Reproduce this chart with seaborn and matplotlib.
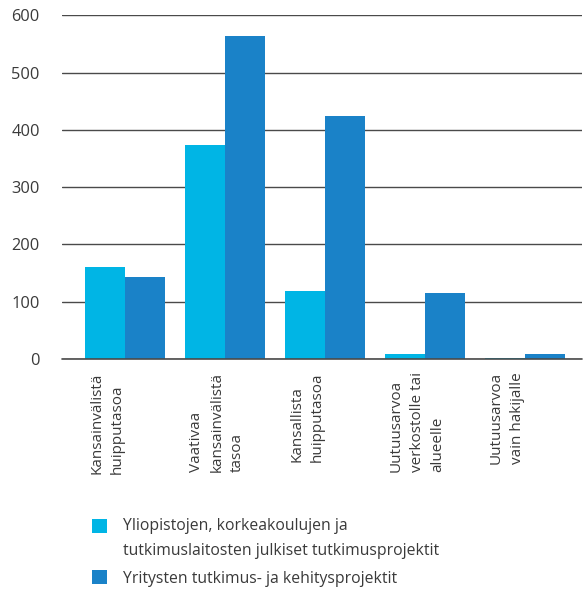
import matplotlib
matplotlib.use("Agg")
import matplotlib.pyplot as plt
import matplotlib.transforms as mtransforms
from matplotlib.patches import Patch, Rectangle
from matplotlib.legend_handler import HandlerPatch
import seaborn as sns
import pandas as pd

categories = [
    "Kansainvälistä\nhuipputasoa",
    "Vaativaa\nkansainvälistä\ntasoa",
    "Kansallista\nhuipputasoa",
    "Uutuusarvoa\nverkostolle tai\nalueelle",
    "Uutuusarvoa\nvain hakijalle",
]
series_names = [
    "Yliopistojen, korkeakoulujen ja\ntutkimuslaitosten julkiset tutkimusprojektit",
    "Yritysten tutkimus- ja kehitysprojektit",
]
values_public = [160, 373, 118, 9, 2]
values_company = [144, 565, 425, 115, 9]
colors = ["#00B5E5", "#1A82C8"]
yticks = [0, 100, 200, 300, 400, 500, 600]

df = pd.DataFrame({
    "cat": categories * 2,
    "value": values_public + values_company,
    "series": [series_names[0]] * len(categories) + [series_names[1]] * len(categories),
})

sns.set_theme(style="white")
plt.rcParams["font.family"] = ["Open Sans", "DejaVu Sans"]
text_color = "#3a3a3a"

fig = plt.figure(figsize=(5.85, 5.91), dpi=100)
ax = fig.add_axes([0.106, 0.3926, 0.889, 0.5812])
sns.barplot(data=df, x="cat", y="value", hue="series", palette=colors,
            saturation=1, width=0.8, ax=ax, legend=False, zorder=3,
            linewidth=0, edgecolor="none")

ax.set_ylim(0, 600)
ax.set_xlim(-0.63, 4.57)
ax.set_yticks(yticks)
ax.yaxis.grid(True, color="#4a4a4a", linewidth=1.0, zorder=0)
ax.set_axisbelow(True)
ax.axhline(0, color="#4a4a4a", linewidth=1.2, zorder=4, clip_on=False)
for s in ax.spines.values():
    s.set_visible(False)
ax.set_xlabel("")
ax.set_ylabel("")
ax.tick_params(axis="y", length=0, pad=16, labelsize=11.8, labelcolor=text_color)
ax.tick_params(axis="x", length=0, pad=9.5)
ax.set_xticks(range(len(categories)))
ax.set_xticklabels(categories, rotation=90, ha="left", va="top",
                   fontsize=11, color=text_color)
offset = mtransforms.ScaledTranslation(-36 / 100, 0, fig.dpi_scale_trans)
for lab in ax.get_xticklabels():
    lab.set_multialignment("left")
    lab.set_linespacing(1.5)
    lab.set_transform(lab.get_transform() + offset)


def make_handler(shift_pt):
    def patch_func(legend, orig_handle, xdescent, ydescent, width, height, fontsize):
        return Rectangle((-xdescent, -ydescent + shift_pt), width, height)
    return HandlerPatch(patch_func=patch_func)


handles = [Patch(facecolor=c, edgecolor="none") for c in colors]
leg = fig.legend(handles, series_names, loc="upper left",
                 bbox_to_anchor=(0.133, 0.148), frameon=False,
                 fontsize=11.3, handlelength=0.95, handleheight=0.95,
                 handletextpad=1.0, labelspacing=0.75, labelcolor=text_color,
                 handler_map={handles[0]: make_handler(9.0),
                              handles[1]: make_handler(0.0)})
for t in leg.get_texts():
    t.set_linespacing(1.75)

fig.savefig("out.png", dpi=100)
